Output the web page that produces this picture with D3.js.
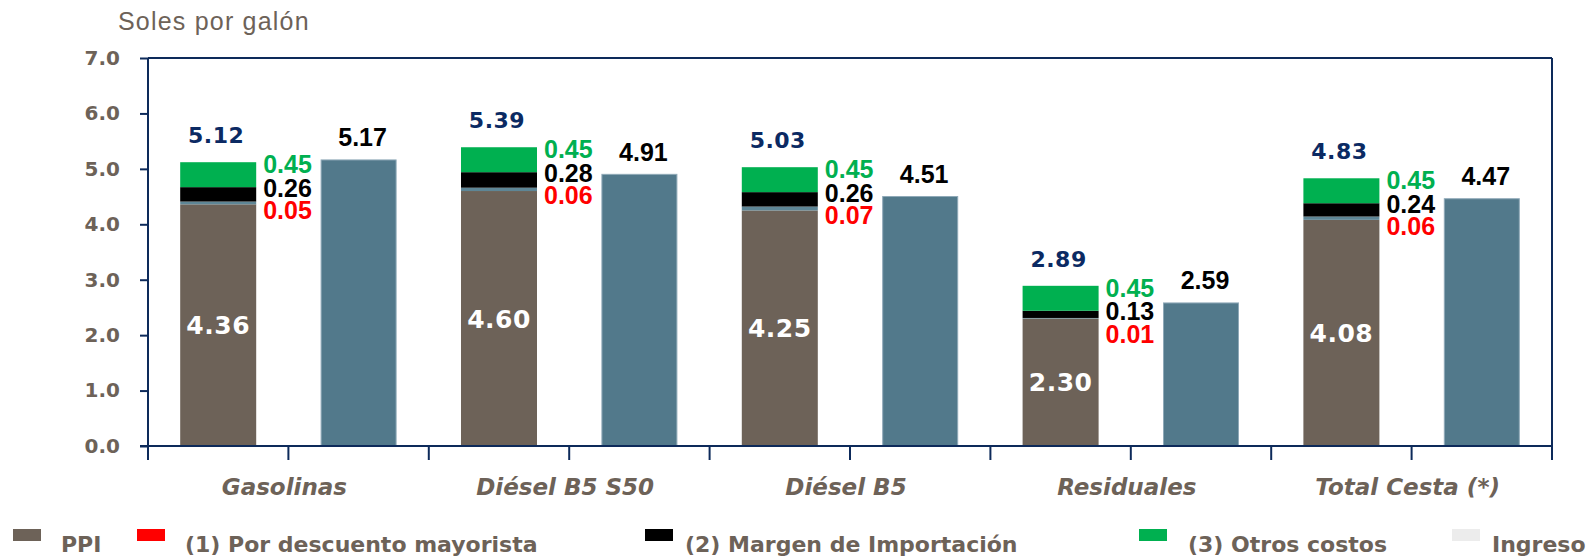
<!DOCTYPE html>
<html>
<head>
<meta charset="utf-8">
<script src="https://cdn.jsdelivr.net/npm/d3@7"></script>
<style>
  html, body { margin: 0; padding: 0; background: #ffffff; }
  svg { display: block; }
</style>
</head>
<body>
<svg id="chart" width="1590" height="557"></svg>
<script>
// Price structure per fuel, soles per gallon
const categories = ["Gasolinas", "Diésel B5 S50", "Diésel B5", "Residuales", "Total Cesta (*)"];
const ppi        = [4.36, 4.60, 4.25, 2.30, 4.08];
const descuento  = [0.05, 0.06, 0.07, 0.01, 0.06];
const margen     = [0.26, 0.28, 0.26, 0.13, 0.24];
const otros      = [0.45, 0.45, 0.45, 0.45, 0.45];
const totals     = [5.12, 5.39, 5.03, 2.89, 4.83];
const ingreso    = [5.17, 4.91, 4.51, 2.59, 4.47];
const yTicks     = [0, 1, 2, 3, 4, 5, 6, 7];
const legendLabels = ["PPI", "(1) Por descuento mayorista", "(2) Margen de Importación", "(3) Otros costos", "Ingreso"];

const C = {
  ppi: "#6d6258",
  descSeg: "#5e8696",
  descText: "#ff0000",
  margen: "#000000",
  otros: "#00b050",
  ingreso: "#52798b",
  ingresoLegend: "#ececec",
  navy: "#0d2a5a",
  text: "#6d6258"
};

const svg = d3.select("#chart");
const plotLeft = 148, plotRight = 1552, plotTop = 58, plotBottom = 446;

const x = d3.scaleBand().domain(categories).range([plotLeft, plotRight]).padding(0);
const sub = d3.scaleBand().domain(["stack", "ingreso"]).range([0, x.bandwidth()])
  .paddingInner(0.4587).paddingOuter(0.2293);
const y = d3.scaleLinear().domain([0, 7]).range([plotBottom, plotTop]);

// Stacked segments
const stackKeys = ["ppi", "descuento", "margen", "otros"];
const segColors = { ppi: C.ppi, descuento: C.descSeg, margen: C.margen, otros: C.otros };
const rows = categories.map((c, i) => ({ cat: c, ppi: ppi[i], descuento: descuento[i], margen: margen[i], otros: otros[i] }));
const stacked = d3.stack().keys(stackKeys)(rows);

const gBars = svg.append("g");
stacked.forEach(layer => {
  gBars.selectAll(null).data(layer).enter().append("rect")
    .attr("x", d => x(d.data.cat) + sub("stack"))
    .attr("width", sub.bandwidth())
    .attr("y", d => y(d[1]))
    .attr("height", d => y(d[0]) - y(d[1]))
    .attr("fill", segColors[layer.key]);
});

// Ingreso bars
gBars.selectAll(null).data(categories).enter().append("rect")
  .attr("x", c => x(c) + sub("ingreso") + 0.5)
  .attr("width", sub.bandwidth() - 1)
  .attr("y", (c, i) => y(ingreso[i]) + 0.5)
  .attr("height", (c, i) => y(0) - y(ingreso[i]) - 0.5)
  .attr("fill", C.ingreso)
  .attr("stroke", "#8fa9b8")
  .attr("stroke-width", 1);

// Plot frame
const frame = svg.append("g").attr("fill", "none").attr("stroke", C.navy).attr("stroke-width", 2);
frame.append("line").attr("x1", plotLeft).attr("x2", plotLeft).attr("y1", plotTop).attr("y2", plotBottom);
frame.append("line").attr("x1", plotLeft).attr("x2", plotRight).attr("y1", plotTop).attr("y2", plotTop);
frame.append("line").attr("x1", plotRight).attr("x2", plotRight).attr("y1", plotTop).attr("y2", plotBottom);
frame.append("line").attr("x1", plotLeft - 8).attr("x2", plotRight).attr("y1", plotBottom).attr("y2", plotBottom);

// Y axis
const yAxis = svg.append("g").attr("transform", `translate(${plotLeft},0)`)
  .call(d3.axisLeft(y).tickValues(yTicks).tickFormat(d3.format(".1f")).tickSize(8).tickPadding(20));
yAxis.select(".domain").remove();
yAxis.selectAll(".tick line").attr("stroke", C.navy).attr("stroke-width", 2);
yAxis.selectAll(".tick text")
  .attr("fill", C.text)
  .style("font-family", "'DejaVu Sans', sans-serif")
  .style("font-weight", "bold")
  .style("font-size", "20px");

// X ticks at every bar slot boundary
const bounds = [];
categories.forEach(c => { bounds.push(x(c)); bounds.push(x(c) + x.bandwidth() / 2); });
bounds.push(plotRight);
svg.append("g").selectAll("line").data(bounds).enter().append("line")
  .attr("x1", d => d).attr("x2", d => d)
  .attr("y1", plotBottom).attr("y2", plotBottom + 14)
  .attr("stroke", C.navy).attr("stroke-width", 2);

// Category labels
svg.append("g").selectAll("text").data(categories).enter().append("text")
  .attr("x", c => x(c) + x.bandwidth() / 2 - 4)
  .attr("y", 495)
  .attr("text-anchor", "middle")
  .attr("fill", C.text)
  .style("font-family", "'DejaVu Sans', sans-serif")
  .style("font-weight", "bold")
  .style("font-style", "italic")
  .style("font-size", "23px")
  .text(c => c);

// Axis title
svg.append("text")
  .attr("x", 118).attr("y", 30)
  .attr("fill", C.text)
  .style("font-family", "'Liberation Sans', Arial, sans-serif")
  .style("font-size", "25px")
  .style("letter-spacing", "1.2px")
  .text("Soles por galón");

// Labels
const labels = svg.append("g");
const stackRight = c => x(c) + sub("stack") + sub.bandwidth();
const stackMid = c => x(c) + sub("stack") + sub.bandwidth() / 2;
const arialBold = sel => sel.style("font-family", "'Liberation Sans', Arial, sans-serif")
  .style("font-weight", "bold").style("font-size", "25px");

// PPI value inside the bar
labels.selectAll(null).data(categories).enter().append("text")
  .attr("x", c => stackMid(c))
  .attr("y", (c, i) => y(ppi[i] / 2) + 9)
  .attr("text-anchor", "middle")
  .attr("fill", "#ffffff")
  .style("font-family", "'DejaVu Sans', sans-serif")
  .style("font-weight", "bold")
  .style("font-size", "25px")
  .style("letter-spacing", "0.5px")
  .text((c, i) => ppi[i].toFixed(2));

// Total above the stack
labels.selectAll(null).data(categories).enter().append("text")
  .attr("x", c => stackMid(c) - 2)
  .attr("y", (c, i) => y(totals[i]) - 19)
  .attr("text-anchor", "middle")
  .attr("fill", "#0b2a63")
  .style("font-family", "'DejaVu Sans', sans-serif")
  .style("font-weight", "bold")
  .style("font-size", "22px")
  .style("letter-spacing", "0.5px")
  .text((c, i) => totals[i].toFixed(2));

// Component values beside the stack
const sideSeries = [
  { vals: otros, color: C.otros, dy: 11 },
  { vals: margen, color: "#000000", dy: 34.5 },
  { vals: descuento, color: C.descText, dy: 57 }
];
sideSeries.forEach(s => {
  labels.selectAll(null).data(categories).enter().append("text")
    .attr("x", c => stackRight(c) + 7)
    .attr("y", (c, i) => y(totals[i]) + s.dy)
    .attr("fill", s.color)
    .call(arialBold)
    .text((c, i) => s.vals[i].toFixed(2));
});

// Ingreso value above its bar
labels.selectAll(null).data(categories).enter().append("text")
  .attr("x", c => x(c) + sub("ingreso") + sub.bandwidth() / 2 + 4)
  .attr("y", (c, i) => y(ingreso[i]) - 13)
  .attr("text-anchor", "middle")
  .attr("fill", "#000000")
  .call(arialBold)
  .text((c, i) => ingreso[i].toFixed(2));

// Legend
const legendColors = [C.ppi, "#ff0000", "#000000", C.otros, C.ingresoLegend];
const swatchX = [13, 137, 645, 1139, 1452];
const legendTextX = [61, 185, 685, 1188, 1492];
const legend = svg.append("g");
legendLabels.forEach((t, i) => {
  legend.append("rect").attr("x", swatchX[i]).attr("y", 529).attr("width", 28).attr("height", 12)
    .attr("fill", legendColors[i]);
  legend.append("text").attr("x", legendTextX[i]).attr("y", 552)
    .attr("fill", C.text)
    .style("font-family", "'DejaVu Sans', sans-serif")
    .style("font-weight", "bold")
    .style("font-size", "22px")
    .text(t);
});
</script>
</body>
</html>
